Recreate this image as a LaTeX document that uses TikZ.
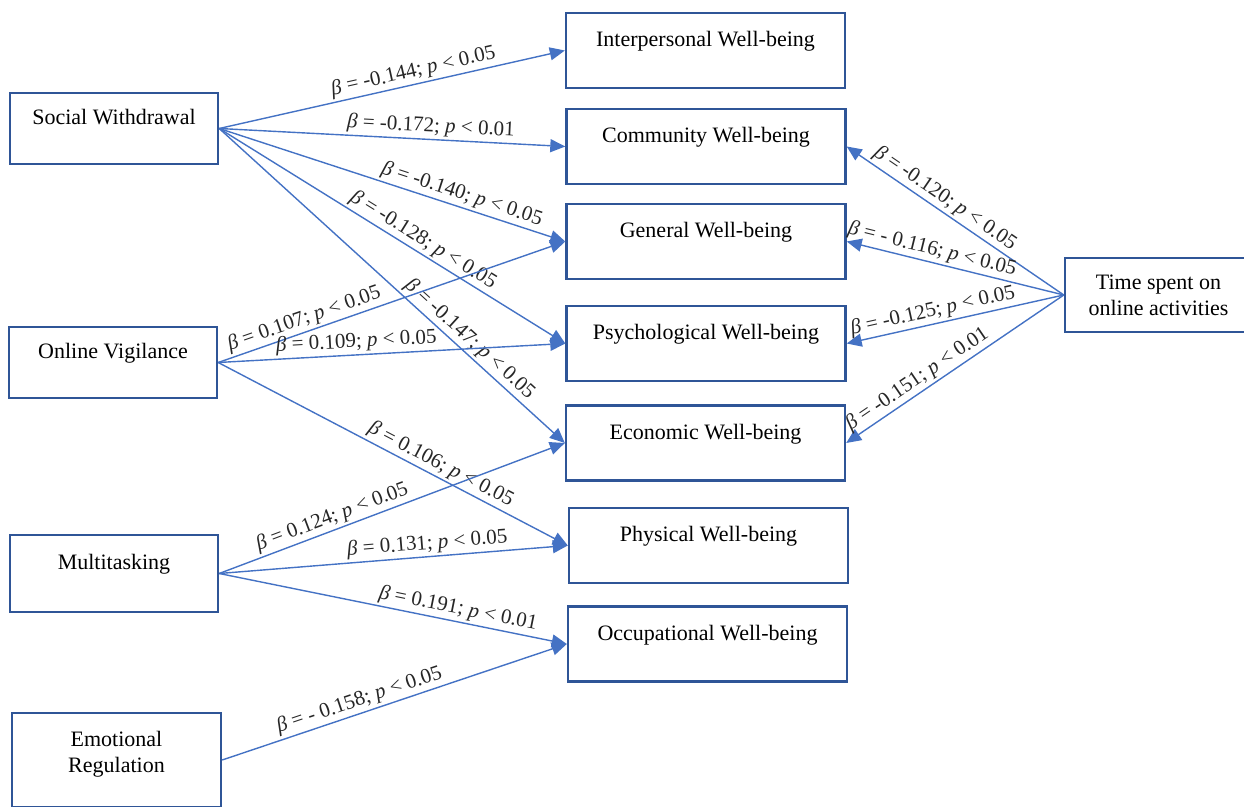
\documentclass[tikz,border=0pt]{standalone}
\usepackage{fontspec}
\setmainfont{Liberation Serif}
\usetikzlibrary{arrows.meta}
\definecolor{boxblue}{RGB}{47,85,151}
\definecolor{linkblue}{RGB}{68,114,196}
\newcommand{\pathlbl}[2]{\textit{β} = #1; \textit{p} < #2}

\begin{document}
\begin{tikzpicture}[x=0.5pt,y=-0.5pt,
    box/.style={draw=boxblue,line width=1.2pt,minimum width=139.5pt,minimum height=37.5pt,
                inner sep=1pt,align=center,font=\fontsize{11}{13}\selectfont},
    upper/.style={text height=8pt,text depth=11.6pt},
    src/.style={box,upper,minimum width=104pt},
    wb/.style={box,upper},
    link/.style={linkblue,line width=0.7pt,-{Triangle[length=7.5pt,width=6.5pt]}},
    lbl/.style={sloped,above,inner sep=1.2pt,font=\fontsize{10.5}{12}\selectfont,text=black!85}]
    \clip (0,0) rectangle (1244,807);

    % predictors
    \node[src,minimum height=35.5pt] (sw) at (114,128.5) {Social Withdrawal};
    \node[src,minimum height=35.5pt] (ov) at (113,362.5) {Online Vigilance};
    \node[src,minimum height=38.5pt] (mt) at (114,573.5) {Multitasking};
    \node[box,minimum width=104.5pt,minimum height=47pt,text height=21pt,text depth=8.6pt]
        (er) at (116.5,760) {Emotional\\Regulation};

    % well-being outcomes
    \node[wb] (ip)  at (705.5,50.5) {Interpersonal Well-being};
    \node[wb] (com) at (706,146.5)  {Community Well-being};
    \node[wb] (gen) at (706,241.5)  {General Well-being};
    \node[wb] (psy) at (706,343.5)  {Psychological Well-being};
    \node[wb] (eco) at (705.5,443)  {Economic Well-being};
    \node[wb] (phy) at (708.5,545.5) {Physical Well-being};
    \node[wb] (occ) at (707.5,644)  {Occupational Well-being};

    \node[box,minimum width=93.5pt,minimum height=37pt] (tso) at (1158.5,295) {Time spent on\\online activities};

    \draw[link] (sw.east) -- node[lbl,pos=.57] {\pathlbl{-0.144}{0.05}} (ip.west);
    \draw[link] (sw.east) -- node[lbl,pos=.61] {\pathlbl{-0.172}{0.01}} (com.west);
    \draw[link] (sw.east) -- node[lbl,pos=.69] {\pathlbl{-0.140}{0.05}} (gen.west);
    \draw[link] (sw.east) -- node[lbl,pos=.57] {\pathlbl{-0.128}{0.05}} (psy.west);
    \draw[link] (sw.east) -- node[lbl,pos=.70] {\pathlbl{-0.147}{0.05}} (eco.west);

    \draw[link] (ov.east) -- node[lbl,pos=.26] {\pathlbl{0.107}{0.05}} (gen.west);
    \draw[link] (ov.east) -- node[lbl,pos=.40] {\pathlbl{0.109}{0.05}} (psy.west);
    \draw[link] (ov.east) -- node[lbl,pos=.62] {\pathlbl{0.106}{0.05}} (phy.west);

    \draw[link] (mt.east) -- node[lbl,pos=.34] {\pathlbl{0.124}{0.05}} (eco.west);
    \draw[link] (mt.east) -- node[lbl,pos=.60] {\pathlbl{0.131}{0.05}} (phy.west);
    \draw[link] (mt.east) -- node[lbl,pos=.68] {\pathlbl{0.191}{0.01}} (occ.west);

    \draw[link] (er.east) -- node[lbl,pos=.41] {\pathlbl{- 0.158}{0.05}} (occ.west);

    \draw[link] (tso.west) -- node[lbl,pos=.58] {\pathlbl{-0.120}{0.05}} (com.east);
    \draw[link] (tso.west) -- node[lbl,pos=.62] {\pathlbl{- 0.116}{0.05}} (gen.east);
    \draw[link] (tso.west) -- node[lbl,pos=.59] {\pathlbl{-0.125}{0.05}} (psy.east);
    \draw[link] (tso.west) -- node[lbl,pos=.64] {\pathlbl{-0.151}{0.01}} (eco.east);
\end{tikzpicture}
\end{document}
